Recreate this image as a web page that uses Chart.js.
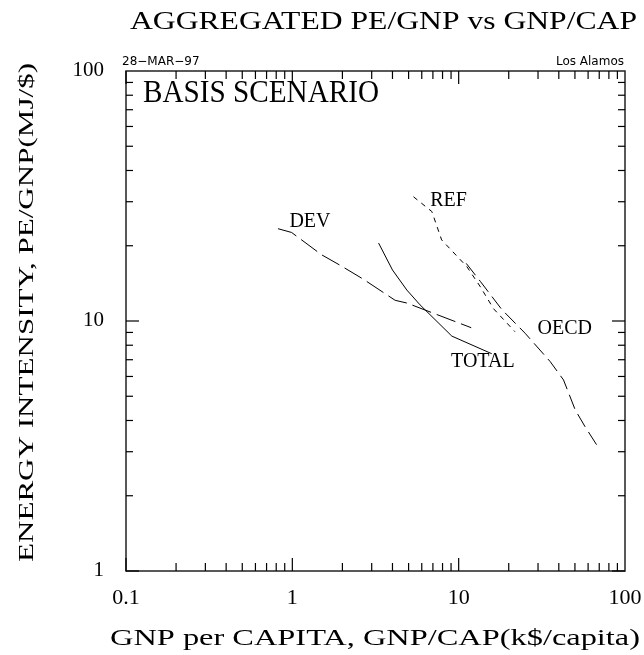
<!DOCTYPE html>
<html>
<head>
<meta charset="utf-8">
<script src="https://cdn.jsdelivr.net/npm/chart.js@4/dist/chart.umd.min.js"></script>
<style>
html,body{margin:0;padding:0;background:#fff;}
canvas{display:block;}
</style>
</head>
<body>
<canvas id="c" width="644" height="655"></canvas>
<script>
// ---- data ----
const devX   = [0.82, 0.99, 1.5, 1.94, 2.67, 4.15, 4.88, 11.9];
const devY   = [23.4, 22.6, 18.4, 16.7, 14.7, 12.1, 11.8, 9.4];
const totalX = [3.3, 4.0, 4.88, 5.86, 9.1, 15.8];
const totalY = [20.5, 16.0, 13.3, 11.6, 8.7, 7.4];
const refX   = [5.35, 6.9, 7.9, 11.2, 13.5, 16.2, 21.8];
const refY   = [31.4, 27.4, 21.1, 16.5, 13.7, 11.2, 9.06];
const oecdX  = [11.1, 13.5, 18.2, 25.1, 35.5, 42.7, 50.2, 57.5, 70.0];
const oecdY  = [17.0, 14.4, 11.1, 8.93, 6.88, 5.81, 4.41, 3.78, 3.08];

const xTickVals   = [0.1, 1, 10, 100];
const xTickLabels = ['0.1', '1', '10', '100'];
const yTickVals   = [1, 10, 100];
const yTickLabels = ['1', '10', '100'];
const xMinorMult  = [1, 2, 3, 4, 5, 6, 7, 8, 9];

const titleText  = 'AGGREGATED PE/GNP vs GNP/CAP';
const xTitleText = 'GNP per CAPITA, GNP/CAP(k$/capita)';
const yTitleText = 'ENERGY INTENSITY, PE/GNP(MJ/$)';
const scenarioText = 'BASIS SCENARIO';
const dateText = '28\u2212MAR\u221297';
const siteText = 'Los Alamos';

// series labels placed at a data location
const seriesLabels = [
  {text:'DEV',   x:0.96, y:23.8},
  {text:'REF',   x:6.75, y:28.8},
  {text:'OECD',  x:29.8, y:8.9},
  {text:'TOTAL', x:9.0,  y:6.55}
];

const toPts = (xs, ys) => xs.map((v, i) => ({x: v, y: ys[i]}));

const SERIF = "'Liberation Serif','DejaVu Serif',serif";
const SANS  = "'DejaVu Sans','Liberation Sans',sans-serif";

function drawText(ctx, text, x, y, font, opts) {
  opts = opts || {};
  ctx.save();
  ctx.font = font;
  ctx.fillStyle = '#000';
  const w = ctx.measureText(text).width;
  const sx = opts.width ? opts.width / w : 1;
  ctx.translate(x, y);
  if (opts.rot) ctx.rotate(opts.rot);
  ctx.scale(sx, 1);
  ctx.textAlign = opts.align || 'left';
  ctx.textBaseline = opts.baseline || 'alphabetic';
  ctx.fillText(text, 0, 0);
  ctx.restore();
}

function line(ctx, x1, y1, x2, y2) {
  ctx.beginPath();
  ctx.moveTo(x1, y1);
  ctx.lineTo(x2, y2);
  ctx.stroke();
}

const framePlugin = {
  id: 'frame',
  beforeDraw(chart) {
    const ctx = chart.ctx;
    ctx.save();
    ctx.fillStyle = '#fff';
    ctx.fillRect(0, 0, chart.width, chart.height);
    ctx.restore();
  },
  afterDraw(chart) {
    const ctx = chart.ctx;
    const a = chart.chartArea;
    const xs = chart.scales.x, ys = chart.scales.y;
    ctx.save();
    ctx.setLineDash([]);
    ctx.globalAlpha = 1;
    // frame
    ctx.strokeStyle = '#222';
    ctx.lineWidth = 1.5;
    ctx.strokeRect(a.left, a.top, a.right - a.left, a.bottom - a.top);
    // ticks
    ctx.lineWidth = 1.2;
    ctx.strokeStyle = '#000';
    const xDecades = [0.1, 1, 10];
    xDecades.forEach(d => {
      xMinorMult.forEach(m => {
        const v = d * m;
        const px = xs.getPixelForValue(v);
        const L = (m === 1) ? 13 : 8;
        line(ctx, px, a.bottom, px, a.bottom - L);
        line(ctx, px, a.top, px, a.top + L);
      });
    });
    const yDecades = [1, 10];
    yDecades.forEach(d => {
      xMinorMult.forEach(m => {
        const v = d * m;
        const py = ys.getPixelForValue(v);
        const L = (m === 1) ? 13 : 7;
        line(ctx, a.left, py, a.left + L, py);
        line(ctx, a.right, py, a.right - L, py);
      });
    });
    ctx.restore();

    // tick labels
    xTickVals.forEach((v, i) => {
      drawText(ctx, xTickLabels[i], xs.getPixelForValue(v), a.bottom + 27,
        '22px ' + SERIF, {align: 'center', baseline: 'middle'});
    });
    yTickVals.forEach((v, i) => {
      drawText(ctx, yTickLabels[i], a.left - 22, ys.getPixelForValue(v) - 1,
        '21px ' + SERIF, {align: 'right', baseline: 'middle'});
    });

    // titles
    drawText(ctx, titleText, 383.5, 29, '26px ' + SERIF, {align: 'center', width: 507});
    drawText(ctx, xTitleText, 375, 645, '24px ' + SERIF, {align: 'center', width: 530});
    drawText(ctx, yTitleText, 33, 312.5, '22px ' + SERIF, {align: 'center', width: 499, rot: -Math.PI / 2});

    // header texts
    drawText(ctx, dateText, a.left - 4, a.top - 6, '12px ' + SANS, {align: 'left'});
    drawText(ctx, siteText, a.right - 1, a.top - 6, '12px ' + SANS, {align: 'right'});
    drawText(ctx, scenarioText, 143, 102, '31px ' + SERIF, {align: 'left', width: 236});

    // series labels
    seriesLabels.forEach(l => {
      drawText(ctx, l.text, xs.getPixelForValue(l.x), ys.getPixelForValue(l.y),
        '20px ' + SERIF, {align: 'left'});
    });
  }
};

const base = {showLine: true, pointRadius: 0, borderColor: '#000', borderWidth: 1, fill: false, tension: 0};

new Chart(document.getElementById('c'), {
  type: 'scatter',
  data: {
    datasets: [
      Object.assign({label: 'DEV',   data: toPts(devX, devY),     borderDash: [20, 6]}, base),
      Object.assign({label: 'TOTAL', data: toPts(totalX, totalY), borderDash: []}, base),
      Object.assign({label: 'REF',   data: toPts(refX, refY),     borderDash: [5, 5]}, base),
      Object.assign({label: 'OECD',  data: toPts(oecdX, oecdY),   borderDash: [15, 6]}, base)
    ]
  },
  options: {
    responsive: false,
    animation: false,
    devicePixelRatio: 1,
    layout: {padding: {left: 126, top: 71, right: 19, bottom: 84}},
    scales: {
      x: {type: 'logarithmic', min: 0.1, max: 100, display: false},
      y: {type: 'logarithmic', min: 1, max: 100, display: false}
    },
    plugins: {legend: {display: false}, tooltip: {enabled: false}, title: {display: false}}
  },
  plugins: [framePlugin]
});
</script>
</body>
</html>
